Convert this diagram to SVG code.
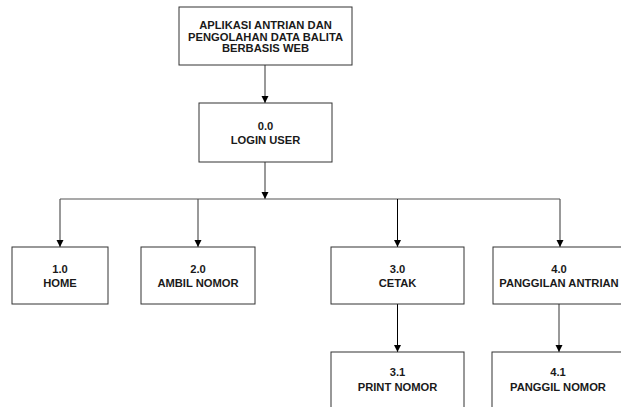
<svg xmlns="http://www.w3.org/2000/svg" width="621" height="407" viewBox="0 0 621 407">
<style>
.box{fill:#fff;stroke:#333;stroke-width:1}
.t{font-family:"Liberation Sans",Arial,sans-serif;font-weight:bold;font-size:11.2px;fill:#1a1a1a;text-anchor:middle}
.c{fill:none;stroke:#555;stroke-width:1.2}
.k{fill:none;stroke:#000;stroke-width:1}
</style>
<defs>
<marker id="ah" markerWidth="8" markerHeight="8" refX="7" refY="3.5" orient="auto" markerUnits="userSpaceOnUse">
<path d="M0,0 L7,3.5 L0,7 Z" fill="#000"/>
</marker>
</defs>
<rect width="621" height="407" fill="#fff"/>
<g id="connectors">
<path class="c" d="M265 65 V103" marker-end="url(#ah)"/>
<path class="c" d="M265 162 V199" marker-end="url(#ah)"/>
<path class="c" d="M60 199 H560"/>
<path class="c" d="M60 199 V247" marker-end="url(#ah)"/>
<path class="c" d="M198 199 V247" marker-end="url(#ah)"/>
<path class="k" d="M397.5 199 V247" marker-end="url(#ah)"/>
<path class="c" d="M560 199 V247" marker-end="url(#ah)"/>
<path class="k" d="M397.5 304 V352" marker-end="url(#ah)"/>
<path class="c" d="M559 304 V352" marker-end="url(#ah)"/>
</g>
<g id="n-root">
<rect class="box" x="179" y="7" width="173" height="58"/>
<text class="t" x="265.5" y="29">APLIKASI ANTRIAN DAN</text>
<text class="t" x="265.5" y="40.7">PENGOLAHAN DATA BALITA</text>
<text class="t" x="265.5" y="52.3">BERBASIS WEB</text>
</g>
<g id="n-0-0">
<rect class="box" x="199" y="103" width="133" height="59"/>
<text class="t" x="265.5" y="129.5">0.0</text>
<text class="t" x="265.5" y="144">LOGIN USER</text>
</g>
<g id="n-1-0">
<rect class="box" x="12" y="247" width="96" height="57"/>
<text class="t" x="60" y="272.5">1.0</text>
<text class="t" x="60" y="287">HOME</text>
</g>
<g id="n-2-0">
<rect class="box" x="141" y="247" width="114" height="57"/>
<text class="t" x="198" y="272.5">2.0</text>
<text class="t" x="198" y="287">AMBIL NOMOR</text>
</g>
<g id="n-3-0">
<rect class="box" x="331" y="247" width="133" height="57"/>
<text class="t" x="397.5" y="272.5">3.0</text>
<text class="t" x="397.5" y="287">CETAK</text>
</g>
<g id="n-4-0">
<rect class="box" x="493" y="247" width="134" height="57"/>
<text class="t" x="559" y="272.5">4.0</text>
<text class="t" x="559" y="287">PANGGILAN ANTRIAN</text>
</g>
<g id="n-3-1">
<rect class="box" x="331" y="352" width="133" height="70"/>
<text class="t" x="397.5" y="375.5">3.1</text>
<text class="t" x="397.5" y="391">PRINT NOMOR</text>
</g>
<g id="n-4-1">
<rect class="box" x="492" y="352" width="135" height="70"/>
<text class="t" x="558" y="375.5">4.1</text>
<text class="t" x="558" y="391">PANGGIL NOMOR</text>
</g>
</svg>
